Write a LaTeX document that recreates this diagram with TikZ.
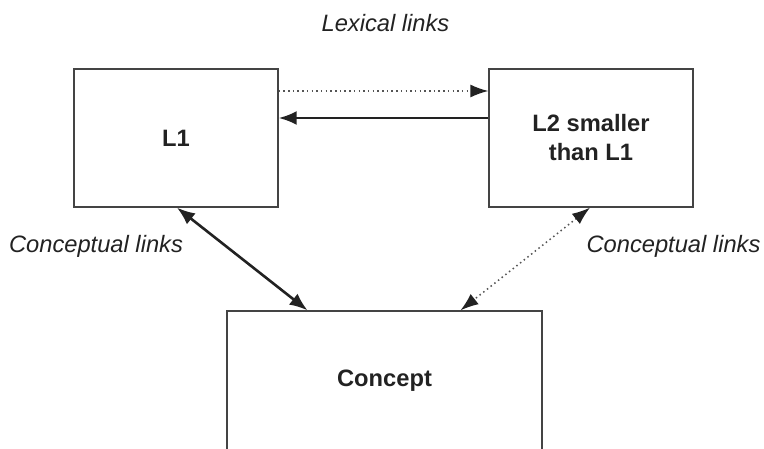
\documentclass[tikz,border=0pt]{standalone}
\usepackage{fontspec}
\setmainfont{Liberation Sans}
\usetikzlibrary{arrows.meta, positioning, calc}
\definecolor{inkgray}{HTML}{222222}
\definecolor{boxgray}{HTML}{444444}
\definecolor{dotgray}{HTML}{555555}
\tikzset{
  langbox/.style={draw=boxgray, line width=1.3pt, inner sep=0pt, align=center,
    font=\fontsize{23.7}{29}\selectfont\bfseries, text=inkgray},
  linklabel/.style={anchor=base, font=\fontsize{23.7}{29}\selectfont\itshape, text=inkgray},
  bigtip/.style={Latex[length=18pt,width=14pt]},
  strong/.style={draw=inkgray, line width=2.6pt, -{Latex[length=18pt,width=14pt]}},
  weak/.style={draw=dotgray, line width=1.5pt, dash pattern=on 1.5pt off 3.2pt,
    -{Latex[length=18pt,width=13pt,fill=inkgray,color=inkgray]}}
}
\begin{document}
\begin{tikzpicture}[x=1pt, y=1pt]
        % frame of the picture
        \useasboundingbox (0,0) rectangle (764,448);

        % the three boxes
        \node[langbox, minimum width=204pt, minimum height=138pt] (lone) at (176,310) {L1};
        \node[langbox, minimum width=204pt, minimum height=138pt] (ltwo) at (591,310) {L2 smaller\\than L1};
        \node[langbox, minimum width=315pt, minimum height=140pt] (concept) at (384.5,67) {Concept};

        % lexical links
        \draw[weak] ([yshift=47pt]lone.east) -- ([yshift=47pt]ltwo.west);
        \draw[strong] ([yshift=20pt]ltwo.west) -- ([yshift=20pt]lone.east);

        % conceptual links
        \draw[strong, {Latex[length=18pt,width=14pt]}-{Latex[length=18pt,width=14pt]}] ([xshift=1pt]lone.south) -- ([xshift=-77pt]concept.north);
        \draw[weak, {Latex[length=18pt,width=13pt,fill=inkgray,color=inkgray]}-{Latex[length=18pt,width=13pt,fill=inkgray,color=inkgray]}] ([xshift=-1pt]ltwo.south) -- ([xshift=76pt]concept.north);

        % labels
        \node[linklabel] (lexlab) at (385.5,416) {Lexical links};
        \node[linklabel] (conlabl) at (96,196) {Conceptual links};
        \node[linklabel] (conlabr) at (673.5,196) {Conceptual links};
    \end{tikzpicture}
\end{document}
